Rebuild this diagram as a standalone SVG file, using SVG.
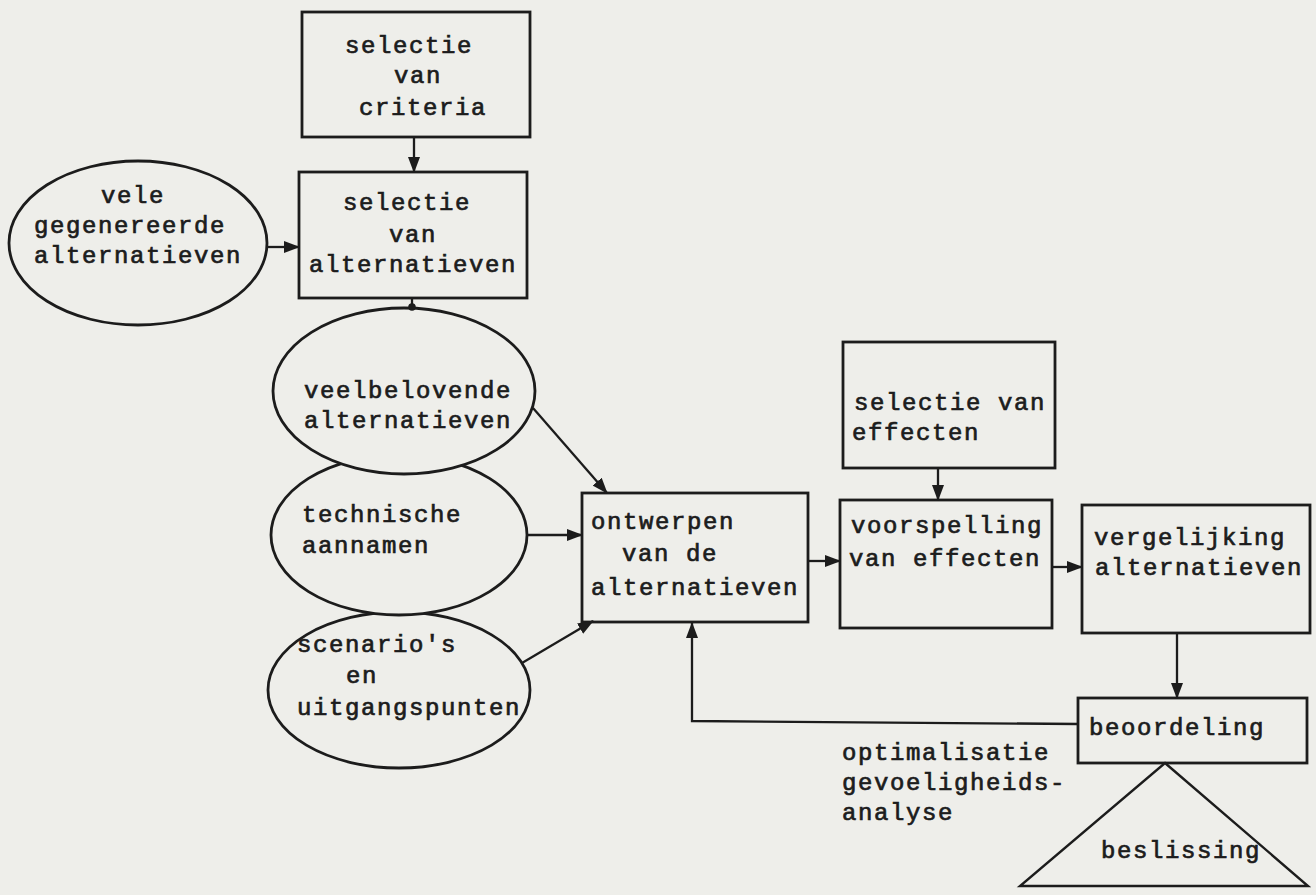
<svg xmlns="http://www.w3.org/2000/svg" width="1316" height="895" viewBox="0 0 1316 895">
  <style>
    .box { fill: #eeeeea; stroke: #1c1c1c; stroke-width: 2.8; }
    .oval { fill: #eeeeea; stroke: #1c1c1c; stroke-width: 2.8; }
    .tri { fill: #eeeeea; stroke: #1c1c1c; stroke-width: 2.4; stroke-linejoin: miter; }
    .lbl { font-family: "Liberation Mono", "DejaVu Sans Mono", monospace; font-size: 24px; letter-spacing: 1.6px; fill: #1c1c1c; stroke: #1c1c1c; stroke-width: 0.7; }
    .wire { fill: none; stroke: #1c1c1c; stroke-width: 2.3; }
    .arrow { marker-end: url(#head); }
  </style>
  <defs>
    <marker id="head" markerUnits="userSpaceOnUse" markerWidth="16" markerHeight="13" refX="15" refY="6.5" orient="auto">
      <path d="M0,0.5 L16,6.5 L0,12.5 z" fill="#1c1c1c"/>
    </marker>
  </defs>

  <!-- paper -->
  <rect x="0" y="0" width="1316" height="895" fill="#eeeeea"/>

  <!-- ovals, lower ones first so upper ones overlap them -->
  <g id="scenarios">
    <ellipse class="oval" cx="399" cy="690" rx="131" ry="78"/>
    <text class="lbl" x="297" y="652">scenario's</text>
    <text class="lbl" x="346" y="683">en</text>
    <text class="lbl" x="297" y="715">uitgangspunten</text>
  </g>
  <g id="technische-aannamen">
    <ellipse class="oval" cx="399" cy="535" rx="128" ry="80"/>
    <text class="lbl" x="302" y="522">technische</text>
    <text class="lbl" x="302" y="553">aannamen</text>
  </g>
  <g id="veelbelovende-alternatieven">
    <ellipse class="oval" cx="404" cy="391" rx="131" ry="83"/>
    <text class="lbl" x="304" y="398">veelbelovende</text>
    <text class="lbl" x="304" y="428">alternatieven</text>
  </g>
  <g id="vele-alternatieven">
    <ellipse class="oval" cx="138" cy="243" rx="129" ry="82"/>
    <text class="lbl" x="101" y="203">vele</text>
    <text class="lbl" x="34" y="233">gegenereerde</text>
    <text class="lbl" x="34" y="263">alternatieven</text>
  </g>

  <!-- boxes -->
  <g id="selectie-criteria">
    <rect class="box" x="302" y="12" width="228" height="125"/>
    <text class="lbl" x="345" y="53">selectie</text>
    <text class="lbl" x="394" y="83">van</text>
    <text class="lbl" x="359" y="115">criteria</text>
  </g>
  <g id="selectie-alternatieven">
    <rect class="box" x="299" y="172" width="228" height="126"/>
    <text class="lbl" x="343" y="210">selectie</text>
    <text class="lbl" x="389" y="242">van</text>
    <text class="lbl" x="309" y="272">alternatieven</text>
  </g>
  <g id="ontwerpen">
    <rect class="box" x="582" y="493" width="226" height="129"/>
    <text class="lbl" x="591" y="529">ontwerpen</text>
    <text class="lbl" x="622" y="561">van de</text>
    <text class="lbl" x="591" y="595">alternatieven</text>
  </g>
  <g id="selectie-effecten">
    <rect class="box" x="843" y="342" width="212" height="126"/>
    <text class="lbl" x="854" y="410">selectie van</text>
    <text class="lbl" x="852" y="440">effecten</text>
  </g>
  <g id="voorspelling">
    <rect class="box" x="840" y="500" width="212" height="128"/>
    <text class="lbl" x="851" y="533">voorspelling</text>
    <text class="lbl" x="849" y="566">van effecten</text>
  </g>
  <g id="vergelijking">
    <rect class="box" x="1082" y="505" width="228" height="128"/>
    <text class="lbl" x="1094" y="545">vergelijking</text>
    <text class="lbl" x="1095" y="575">alternatieven</text>
  </g>
  <g id="beoordeling">
    <rect class="box" x="1078" y="698" width="229" height="65"/>
    <text class="lbl" x="1089" y="735">beoordeling</text>
  </g>
  <g id="beslissing">
    <polygon class="tri" points="1165,763 1308,886 1020,886"/>
    <text class="lbl" x="1101" y="858">beslissing</text>
  </g>

  <!-- feedback note -->
  <g id="feedback-note">
    <text class="lbl" x="842" y="760">optimalisatie</text>
    <text class="lbl" x="842" y="790">gevoeligheids-</text>
    <text class="lbl" x="842" y="820">analyse</text>
  </g>

  <!-- connectors, drawn last so they sit on top of the shapes -->
  <g id="connectors">
    <line class="wire arrow" x1="414" y1="137" x2="414" y2="172"/>
    <line class="wire arrow" x1="267" y1="247" x2="299" y2="247"/>
    <line class="wire" x1="412" y1="298" x2="412" y2="308"/>
    <circle cx="412" cy="307" r="3.8" fill="#1c1c1c"/>
    <line class="wire arrow" x1="533" y1="408" x2="607" y2="493"/>
    <line class="wire arrow" x1="527" y1="535" x2="582" y2="535"/>
    <line class="wire arrow" x1="522" y1="663" x2="593" y2="621"/>
    <line class="wire arrow" x1="938" y1="468" x2="938" y2="500"/>
    <line class="wire arrow" x1="808" y1="561" x2="840" y2="561"/>
    <line class="wire arrow" x1="1052" y1="567" x2="1082" y2="567"/>
    <line class="wire arrow" x1="1177" y1="633" x2="1177" y2="698"/>
    <polyline class="wire arrow" points="1078,724 692,721 692,623"/>
  </g>
</svg>
